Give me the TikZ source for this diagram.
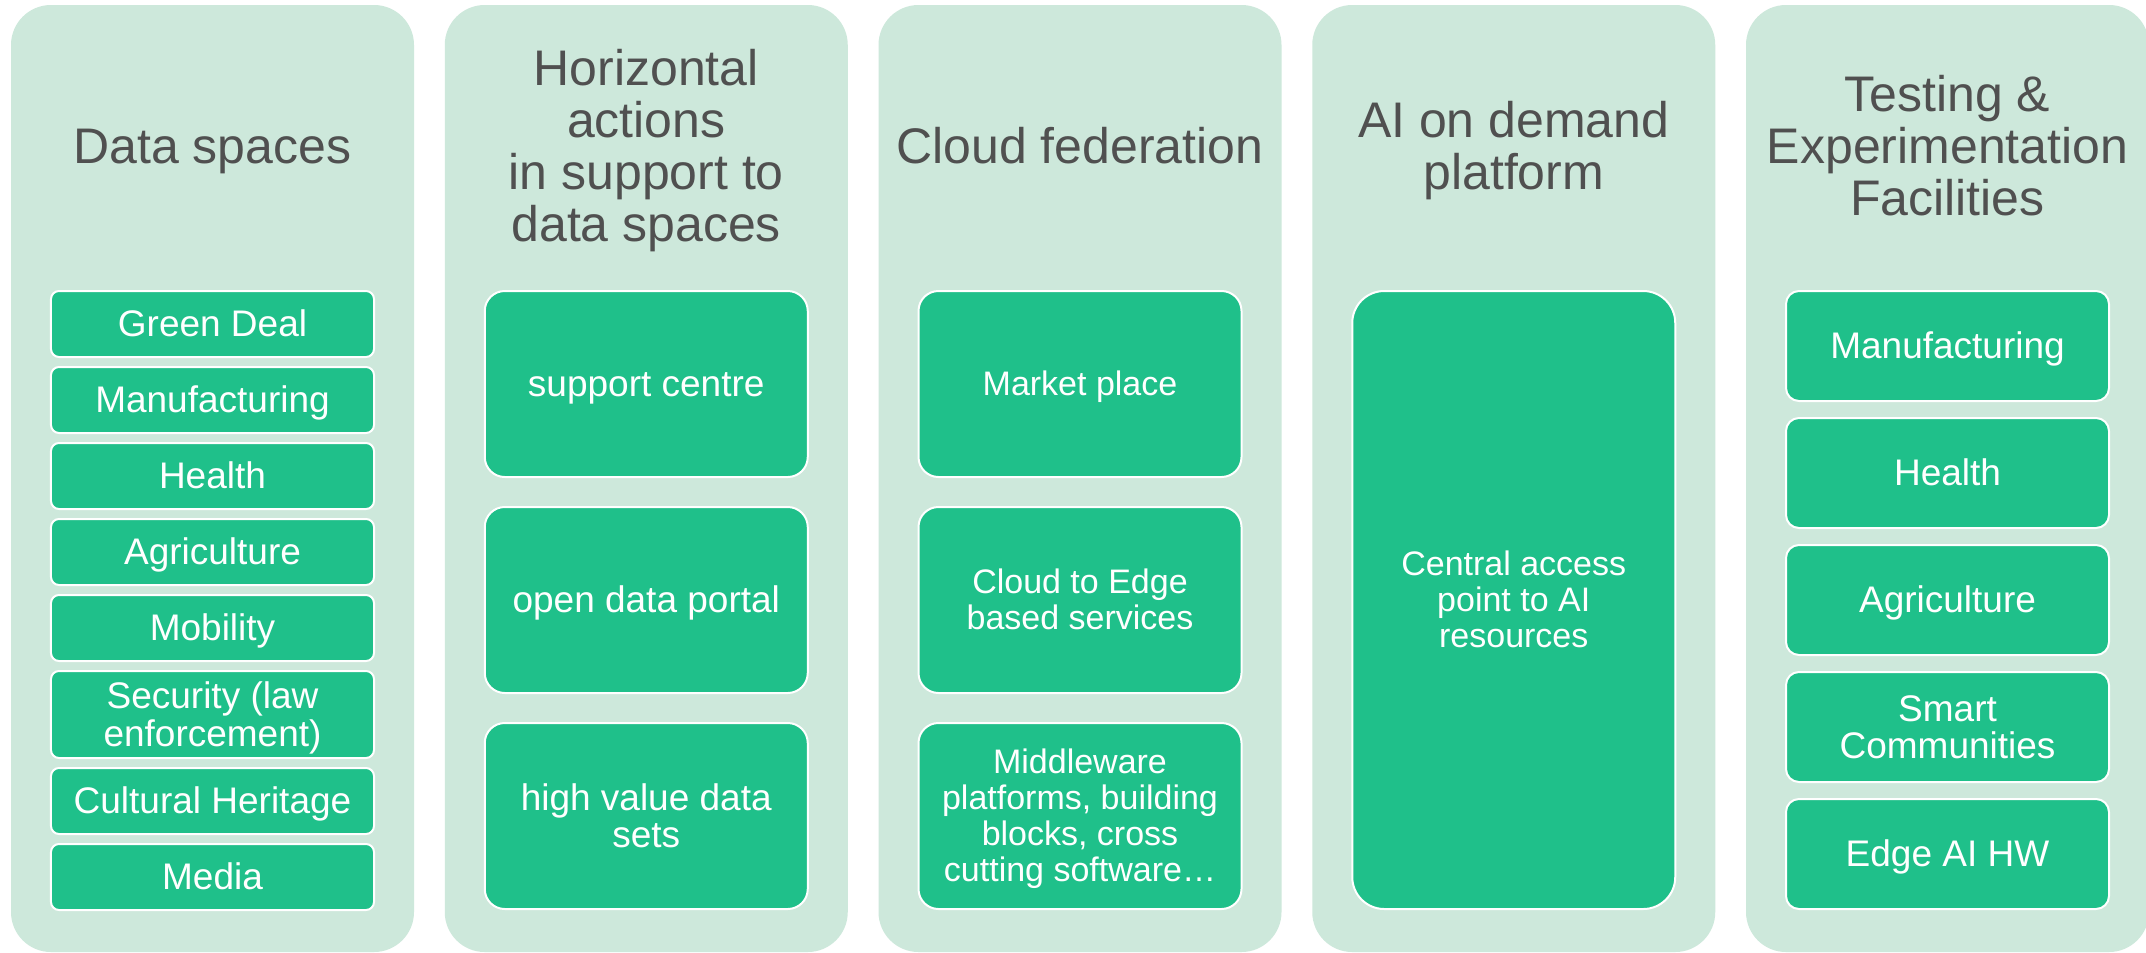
\documentclass[tikz,border=0pt]{standalone}
\usepackage{fontspec}
\setmainfont{Liberation Sans}
\definecolor{colbg}{RGB}{205,232,219}
\definecolor{boxgreen}{RGB}{31,192,138}
\definecolor{titlegray}{RGB}{80,80,80}
\newcommand\tx[1]{\rule{0pt}{0.9em}#1\rule[-0.207em]{0pt}{0.207em}}
\lineskiplimit=-1000pt
\tikzset{
  column/.style={fill=colbg, draw=none, rounded corners=40bp, minimum width=403bp, minimum height=947bp, anchor=north west, inner sep=0pt, outer sep=0pt},
  coltitle/.style={text=titlegray, align=center, inner sep=0pt, font=\fontsize{50bp}{52bp}\selectfont},
  item/.style={fill=boxgreen, draw=white, line width=2bp, text=white, align=center, inner sep=0pt, outer sep=0pt, minimum width=323bp, anchor=north},
  bigitem/.style={item, font=\fontsize{37bp}{37.5bp}\selectfont},
  smallitem/.style={item, font=\fontsize{34bp}{36bp}\selectfont},
  dsbox/.style={bigitem, rounded corners=8bp, minimum height=66bp},
  hbox/.style={bigitem, rounded corners=20bp, minimum height=186bp},
  cbox/.style={smallitem, rounded corners=20bp, minimum height=186bp},
  tbox/.style={bigitem, rounded corners=13bp, minimum height=110bp}
}
\begin{document}
\begin{tikzpicture}[x=1bp,y=-1bp]
\useasboundingbox[fill=white] (0,0) rectangle (2146,953);
% columns
\node[column] (c1) at (11,5) {};
\node[column] (c2) at (444.75,5) {};
\node[column] (c3) at (878.5,5) {};
\node[column] (c4) at (1312.25,5) {};
\node[column] (c5) at (1746,5) {};
% titles
\node[coltitle] (t1) at (212.5,146) {\tx{Data spaces}};
\node[coltitle] (t2) at (646.25,146) {\tx{Horizontal\\actions\\in support to\\data spaces}};
\node[coltitle] (t3) at (1080,146) {\tx{Cloud federation}};
\node[coltitle] (t4) at (1513.75,146) {\tx{AI on demand\\platform}};
\node[coltitle] (t5) at (1947.5,146) {\tx{Testing \&\\Experimentation\\Facilities}};
% column 1
\node[dsbox] (d1) at (212.5,291) {\tx{Green Deal}};
\node[dsbox] (d2) at (212.5,367) {\tx{Manufacturing}};
\node[dsbox] (d3) at (212.5,443) {\tx{Health}};
\node[dsbox] (d4) at (212.5,519) {\tx{Agriculture}};
\node[dsbox] (d5) at (212.5,595) {\tx{Mobility}};
\node[dsbox, minimum height=87bp] (d6) at (212.5,671) {\tx{Security (law\\enforcement)}};
\node[dsbox] (d7) at (212.5,768) {\tx{Cultural Heritage}};
\node[dsbox] (d8) at (212.5,844) {\tx{Media}};
% column 2
\node[hbox] (h1) at (646.25,291) {\tx{support centre}};
\node[hbox] (h2) at (646.25,507) {\tx{open data portal}};
\node[hbox] (h3) at (646.25,723) {\tx{high value data\\sets}};
% column 3
\node[cbox] (f1) at (1080,291) {\tx{Market place}};
\node[cbox] (f2) at (1080,507) {\tx{Cloud to Edge\\based services}};
\node[cbox] (f3) at (1080,723) {\tx{Middleware\\platforms, building\\blocks, cross\\cutting software…}};
% column 4
\node[smallitem, rounded corners=32bp, minimum height=618bp] (a1) at (1513.75,291) {\tx{Central access\\point to AI\\resources}};
% column 5
\node[tbox] (e1) at (1947.5,291) {\tx{Manufacturing}};
\node[tbox] (e2) at (1947.5,418) {\tx{Health}};
\node[tbox] (e3) at (1947.5,545) {\tx{Agriculture}};
\node[tbox] (e4) at (1947.5,672) {\tx{Smart\\Communities}};
\node[tbox] (e5) at (1947.5,799) {\tx{Edge AI HW}};
\end{tikzpicture}
\end{document}
